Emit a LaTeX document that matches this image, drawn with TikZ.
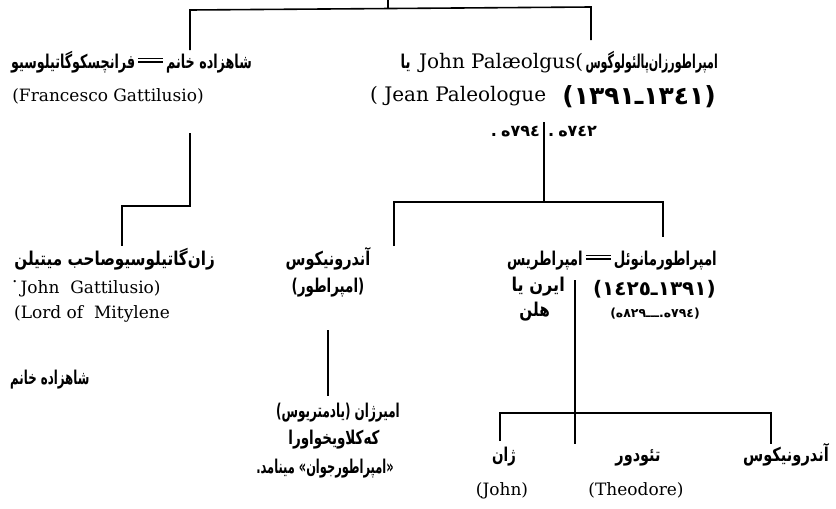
\documentclass[tikz,border=0pt]{standalone}
\usepackage{fontspec}
\setmainfont{DejaVu Serif}
\newfontfamily\fa[Script=Arabic]{DejaVu Sans}
\newfontfamily\fanum[Script=Arabic]{DejaVu Sans}
\newfontfamily\lat{DejaVu Sans}
\TeXXeTstate=1
% marriage sign: a long double bar
\newcommand\marr{\raisebox{0.28em}{\vbox{\hrule width 1.3em height 0.07em\vskip 0.12em\hrule width 1.3em height 0.07em}}}
% pieces of a date line, each in its own box so they stay in the order written
\newcommand\pl[1]{\hbox{\lat\bfseries #1}}
\newcommand\pa[1]{\hbox{#1}}
\newcommand\yrs[2]{\pl{(}\pa{#1}\pa{ـ}\pa{#2}\pl{)}}
% horizontal set width of the Persian lettering
\newcommand\fw[1]{\addfontfeature{FakeStretch=#1}}
\begin{document}
\begin{tikzpicture}[x=1pt,y=-1pt,
  lnk/.style={line width=1.6pt},
  fa/.style={inner sep=0pt, font=\fa\bfseries\fontsize{19}{21}\selectfont},
  fanum/.style={inner sep=0pt, font=\fanum\bfseries\fontsize{16}{18}\selectfont},
  fabig/.style={inner sep=0pt, font=\fanum\bfseries\fontsize{25}{27}\selectfont},
  famid/.style={inner sep=0pt, font=\fanum\bfseries\fontsize{20}{22}\selectfont},
  fasmall/.style={inner sep=0pt, font=\fanum\bfseries\fontsize{12.5}{14}\selectfont},
  la/.style={inner sep=0pt, font=\fontsize{17}{20}\selectfont},
  labig/.style={inner sep=0pt, font=\fontsize{20}{22}\selectfont}]
\useasboundingbox (0,0) rectangle (836,509);

% ---- first generation: the princess and John V
\node[fa, anchor=base east] (princess) at (252,68)
  {\fw{0.67}\beginR شاهزاده خانم\,\marr\,فرانچسکوگاتیلوسیو\endR};
\node[la, anchor=base] (francesco) at (108,101) {(Francesco Gattilusio)};

\node[fa, anchor=base east] (johnfa) at (718,68) {\fw{0.58}\beginR امپراطورزان‌پالئولوگوس\endR};
\node[labig, anchor=base east] (johnla) at ([xshift=-2pt]johnfa.base west) {John Palæolgus(};
\node[fa, anchor=base east] (ya) at ([xshift=-8pt]johnla.base west) {\fw{0.7}\beginR یا\endR};
\node[labig, anchor=base west] (jean) at (370,101) {( Jean Paleologue};
\node[fabig, anchor=base east] (johnyrs) at (716,104) {\yrs{١٣٩١}{١٣٤١}};
\node[fanum, anchor=base east] (hijra1) at (540,136)
  {\pl{.}\hskip4pt\pa{ه}\pa{٧٩٤}};
\node[fanum, anchor=base west] (hijra2) at (548,136)
  {\pl{.}\hskip4pt\pa{ه}\pa{٧٤٢}};

% ---- second generation
\node[fa, anchor=base east] (johng) at (215,265) {\fw{0.8}\beginR زان‌گاتیلوسیوصاحب میتیلن\endR};
\node[la, anchor=base west] (johngla) at (12,293) {\raisebox{0.6em}{.}\hskip3pt John\ \ Gattilusio)};
\node[la, anchor=base west] (lord) at (14,318) {(Lord of\ \ Mitylene};

\node[fa, anchor=base] (andr) at (328,265) {\fw{0.76}\beginR آندرونیکوس\endR};
\node[fa, anchor=base] (emp) at (328,292) {\fw{0.71}\beginR (امپراطور)\endR};

\node[fa, anchor=base east] (manuel) at (717,265)
  {\fw{0.7}\beginR امپراطورمانوئل\,\marr\,امپراطریس\endR};
\node[fa, anchor=base east] (irene) at (565,291) {\fw{0.85}\beginR ایرن یا\endR};
\node[fa, anchor=base east] (helen) at (550,316) {\fw{0.8}\beginR هلن\endR};
\node[famid, anchor=base east] (manyrs) at (716,295) {\yrs{١٤٢٥}{١٣٩١}};
\node[fasmall, anchor=base east] (manhij) at (700,317)
  {\pl{(}\pa{ه}\pa{٨٢٩}\pa{ـــ}\pl{.}\pa{ه}\pa{٧٩٤}\pl{)}};

% ---- third generation
\node[fa, anchor=base west] (princess2) at (10,384) {\fw{0.62}\beginR شاهزاده خانم\endR};

\node[fa, anchor=base] (amir) at (338,417) {\fw{0.63}\beginR امیرژان (یادمتریوس)\endR};
\node[fa, anchor=base] (kalo) at (334,444) {\fw{0.71}\beginR که‌کلاویخواورا\endR};
\node[fa, anchor=base] (young) at (325,473) {\fw{0.6}\beginR «امپراطورجوان» مینامد.\endR};

\node[fa, anchor=base] (zhan) at (504,461) {\fw{0.71}\beginR ژان\endR};
\node[fa, anchor=base] (teod) at (638,461) {\fw{0.76}\beginR تئودور\endR};
\node[fa, anchor=base] (andr2) at (786,461) {\fw{0.77}\beginR آندرونیکوس\endR};
\node[la, anchor=base] (johnb) at (502,495) {(John)};
\node[la, anchor=base] (theo) at (636,495) {(Theodore)};

% ---- connector points
\coordinate (t0) at (388,0);
\coordinate (t1) at (388,9);
\coordinate (tl) at (190,10);
\coordinate (tr) at (591,7);
\coordinate (tlb) at (190,50);
\coordinate (trb) at (591,40);

\coordinate (fa1) at (190,133);
\coordinate (fa2) at (190,206);
\coordinate (fa3) at (122,206);
\coordinate (fa4) at (122,246);

\coordinate (jv1) at (544,122);
\coordinate (jv2) at (544,202);
\coordinate (ml) at (394,202);
\coordinate (mr) at (663,202);
\coordinate (mlb) at (394,246);
\coordinate (mrb) at (663,237);

\coordinate (ad1) at (328,330);
\coordinate (ad2) at (328,396);

\coordinate (mv1) at (575,280);
\coordinate (mv2) at (575,413);
\coordinate (bl) at (500,413);
\coordinate (br) at (771,413);
\coordinate (blb) at (500,441);
\coordinate (bmb) at (575,444);
\coordinate (brb) at (771,444);

% ---- connectors
\draw[lnk] (t0) -- (t1);
\draw[lnk] (tlb) -- (tl) -- (tr) -- (trb);
\draw[lnk] (fa1) -- (fa2) -- (fa3) -- (fa4);
\draw[lnk] (jv1) -- (jv2);
\draw[lnk] (mlb) -- (ml) -- (mr) -- (mrb);
\draw[lnk] (ad1) -- (ad2);
\draw[lnk] (mv1) -- (mv2);
\draw[lnk] (blb) -- (bl) -- (br) -- (brb);
\draw[lnk] (mv2) -- (bmb);
\end{tikzpicture}
\end{document}
